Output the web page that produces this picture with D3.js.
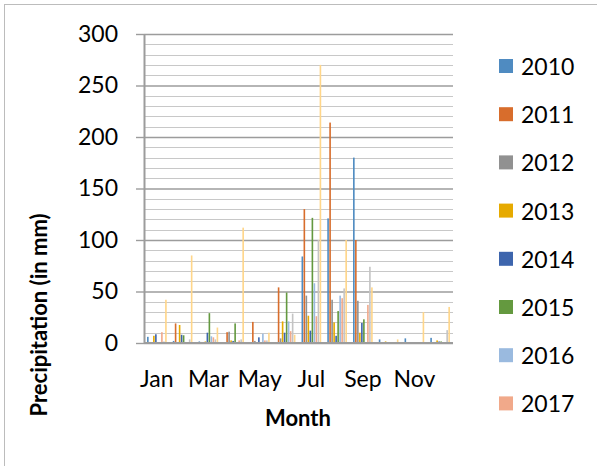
<!DOCTYPE html>
<html>
<head>
<meta charset="utf-8">
<script src="https://cdn.jsdelivr.net/npm/d3@7"></script>
<style>
  body { margin: 0; background: #fff; }
  text { font-family: Lato, "Open Sans", sans-serif; fill: #000; }
</style>
</head>
<body>
<svg class="mainSvg" width="597" height="466"></svg>
<script>
// months and the years (10 series, legend only shows the first 8)
var months = ["Jan", "Feb", "Mar", "Apr", "May", "Jun", "Jul", "Aug", "Sep", "Oct", "Nov", "Dec"];
var years = ["2010", "2011", "2012", "2013", "2014", "2015", "2016", "2017", "2018", "2019"];
var colors = ["#4f8bc1", "#d86d2c", "#919191", "#e6aa00", "#3d65ad", "#64993f", "#9abadf", "#f1a98a", "#c4c4c4", "#ffd68a"];

var y2010 = [6, 2, 1.5, 0, 0, 0, 84, 121, 180, 3.5, 4.5, 5];
var y2011 = [1, 19, 1, 10.5, 20.5, 54, 130, 214, 100, 0, 0, 0];
var y2012 = [0, 0, 1, 11, 2, 4.5, 46, 42, 41, 0, 0, 1];
var y2013 = [7, 17.5, 1.5, 2.5, 0, 21, 26.5, 20, 10, 1.5, 0, 2.5];
var y2014 = [8.5, 8, 10, 2, 5.5, 10, 12, 7, 19.5, 0, 0, 1.5];
var y2015 = [0.5, 7.5, 29, 19, 0, 49, 121.5, 31, 23, 0, 0, 1.5];
var y2016 = [0, 1, 6.5, 0, 9, 21, 58, 46, 0, 0, 0, 0];
var y2017 = [10.5, 0, 5.5, 2.5, 2.5, 11.5, 26, 43.5, 37, 0, 0, 0];
var y2018 = [1.5, 3.5, 3.5, 3.5, 2.5, 28.5, 100, 53, 74, 1, 0, 12.5];
var y2019 = [42, 85, 15, 112, 10, 8, 270, 100, 54, 3.5, 30, 35];
var yTicks = [0, 50, 100, 150, 200, 250, 300];
var xLabels = ["Jan", "Mar", "May", "Jul", "Sep", "Nov"];

var allSeries = [y2010, y2011, y2012, y2013, y2014, y2015, y2016, y2017, y2018, y2019];
var legendYears = years.slice(0, 8);

var svg = d3.select(".mainSvg");

// outer chart border (only left/top visible in the picture)
svg.append("rect")
  .attr("x", 4.5).attr("y", 4.5)
  .attr("width", 620).attr("height", 480)
  .attr("fill", "none")
  .attr("stroke", "#bcbcbc");

var plotLeft = 144, plotRight = 453, plotTop = 34, plotBottom = 343;

var y = d3.scaleLinear().domain([0, 300]).range([plotBottom, plotTop]);
var x0 = d3.scaleBand().domain(months).range([plotLeft, plotRight]).paddingInner(0.22).paddingOuter(0.11);
var x1 = d3.scaleBand().domain(years).range([0, x0.bandwidth()]);

// minor gridlines every 10
svg.append("g").selectAll("line")
  .data(d3.range(10, 301, 10).filter(function(v) { return v % 50 != 0; }))
  .enter().append("line")
  .attr("x1", plotLeft).attr("x2", plotRight)
  .attr("y1", function(d) { return Math.round(y(d)) + 0.5; })
  .attr("y2", function(d) { return Math.round(y(d)) + 0.5; })
  .attr("stroke", "#c8c8c8").attr("stroke-width", 1.2);

// major gridlines
var yg = svg.append("g").attr("transform", "translate(" + plotRight + ",0)")
  .call(d3.axisLeft(y).tickValues(yTicks).tickSize(plotRight - plotLeft).tickSizeOuter(0).tickFormat(""));
yg.select(".domain").remove();
yg.selectAll("line").attr("stroke", "#9c9c9c").attr("stroke-width", 1.4);

// y axis with ticks and labels
var yTickG = svg.append("g").attr("transform", "translate(" + plotLeft + ",0)")
  .call(d3.axisLeft(y).tickValues(yTicks).tickSize(8).tickSizeOuter(0).tickPadding(18));
yTickG.select(".domain").attr("stroke", "#9c9c9c").attr("stroke-width", 2);
yTickG.selectAll("line").attr("stroke", "#9c9c9c").attr("stroke-width", 1.4);
yTickG.selectAll("text")
  .attr("font-size", "23px")
  .style("font-family", "Lato, 'Open Sans', sans-serif")
  .attr("fill", "#000");

// bars
var groups = svg.append("g").selectAll("g")
  .data(months)
  .enter().append("g")
  .attr("transform", function(m) { return "translate(" + x0(m) + ",0)"; });

groups.selectAll("rect")
  .data(function(m, i) {
    return years.map(function(yr, j) { return {year: yr, value: allSeries[j][i], color: colors[j]}; });
  })
  .enter().append("rect")
  .attr("x", function(d) { return x1(d.year) + 0.2; })
  .attr("width", x1.bandwidth() - 0.4)
  .attr("y", function(d) { return y(d.value); })
  .attr("height", function(d) { return plotBottom - y(d.value); })
  .attr("fill", function(d) { return d.color; });

// x axis line
svg.append("line")
  .attr("x1", plotLeft).attr("x2", plotRight)
  .attr("y1", plotBottom).attr("y2", plotBottom)
  .attr("stroke", "#9c9c9c").attr("stroke-width", 2);

// x labels (every other month)
svg.append("g").selectAll("text")
  .data(xLabels)
  .enter().append("text")
  .attr("x", function(m) { return x0(m) + x0.bandwidth() / 2; })
  .attr("y", 387)
  .attr("text-anchor", "middle")
  .attr("font-size", "23px")
  .text(function(m) { return m; });

// axis titles
svg.append("text")
  .attr("x", 298).attr("y", 426)
  .attr("text-anchor", "middle")
  .attr("font-size", "22px")
  .attr("font-weight", "bold")
  .text("Month");

svg.append("text")
  .attr("transform", "translate(47,315) rotate(-90)")
  .attr("text-anchor", "middle")
  .attr("font-size", "22px")
  .attr("font-weight", "bold")
  .text("Precipitation (in mm)");

// legend
var legend = svg.append("g").selectAll("g")
  .data(legendYears)
  .enter().append("g")
  .attr("transform", function(d, i) { return "translate(499," + (59 + i * 48.2) + ")"; });

legend.append("rect")
  .attr("width", 14).attr("height", 14)
  .attr("fill", function(d, i) { return colors[i]; });

legend.append("text")
  .attr("x", 22).attr("y", 16)
  .attr("font-size", "23px")
  .text(function(d) { return d; });
</script>
</body>
</html>
